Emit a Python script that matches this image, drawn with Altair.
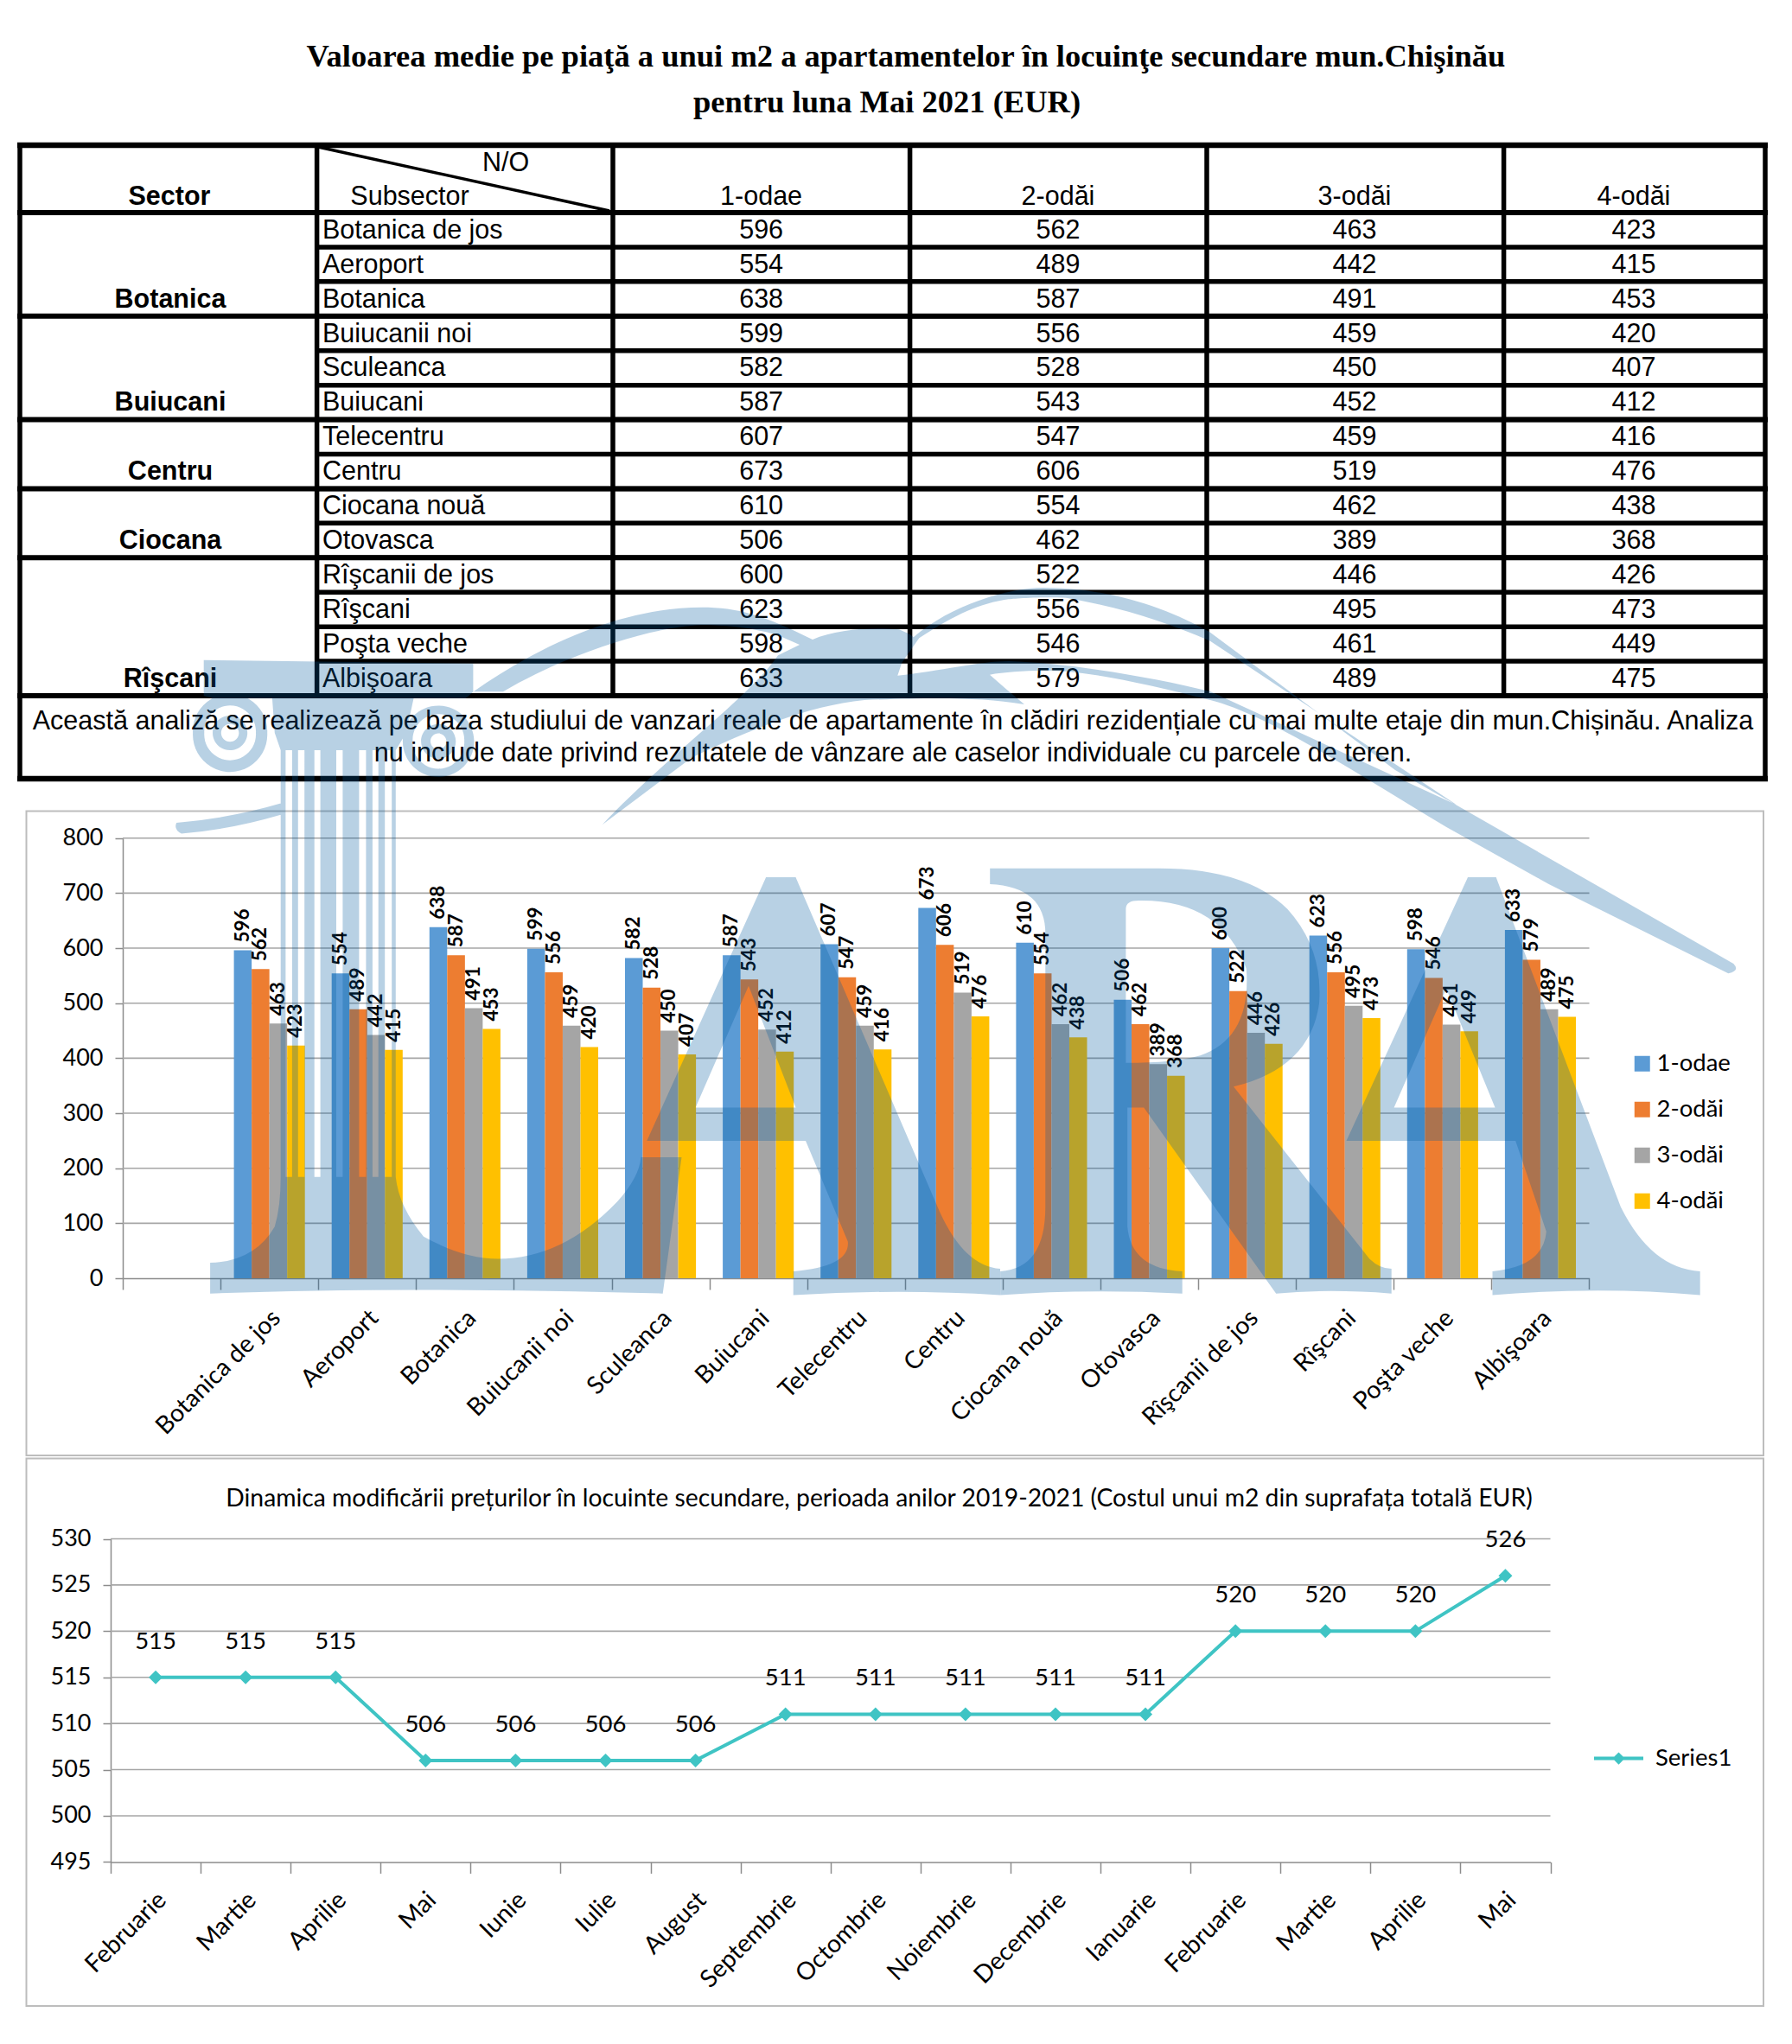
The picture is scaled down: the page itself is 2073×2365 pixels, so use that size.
import re, json
import altair as alt
import pandas as pd

title_lines = ["Valoarea medie pe piaţă a unui m2 a apartamentelor în locuinţe secundare mun.Chişinău",
               "pentru luna Mai 2021 (EUR)"]
note_lines = ["Această analiză se realizează pe baza studiului de vanzari reale de apartamente în clădiri rezidențiale cu mai multe etaje din mun.Chișinău. Analiza",
              "nu include date privind rezultatele de vânzare ale caselor individuale cu parcele de teren."]
series = ["1-odae", "2-odăi", "3-odăi", "4-odăi"]
subsectors = ["Botanica de jos", "Aeroport", "Botanica", "Buiucanii noi", "Sculeanca", "Buiucani", "Telecentru",
              "Centru", "Ciocana nouă", "Otovasca", "Rîşcanii de jos", "Rîşcani", "Poşta veche", "Albişoara"]
v1 = [596, 554, 638, 599, 582, 587, 607, 673, 610, 506, 600, 623, 598, 633]
v2 = [562, 489, 587, 556, 528, 543, 547, 606, 554, 462, 522, 556, 546, 579]
v3 = [463, 442, 491, 459, 450, 452, 459, 519, 462, 389, 446, 495, 461, 489]
v4 = [423, 415, 453, 420, 407, 412, 416, 476, 438, 368, 426, 473, 449, 475]
sectors = ["Botanica", "Buiucani", "Centru", "Ciocana", "Rîşcani"]
sector_rows = [2, 5, 7, 9, 13]
months = ["Februarie", "Martie", "Aprilie", "Mai", "Iunie", "Iulie", "August", "Septembrie", "Octombrie",
          "Noiembrie", "Decembrie", "Ianuarie", "Februarie", "Martie", "Aprilie", "Mai"]
trend = [515, 515, 515, 506, 506, 506, 506, 511, 511, 511, 511, 511, 520, 520, 520, 526]
line_title = "Dinamica modificării prețurilor în locuinte secundare, perioada anilor 2019-2021 (Costul unui m2 din suprafața totală EUR)"

colors = ["#5B9BD5", "#ED7D31", "#A5A5A5", "#FFC000"]
teal = "#3FC4C4"
SANS = "Liberation Sans"
SERIF = "Liberation Serif"
CAL = "Lato"
W = 2035
H1, H2, H3 = 922, 755, 640
O2, O3 = 8 + H1, 8 + H1 + H2
TF = 30.5
SHIFT = 18


def X(x):
    return x - SHIFT


def ty(y):
    return y - 8


row_y = alt.Scale(domain=[0, 14], range=[ty(246), ty(805)])
col_x = [23, 366.6, 709, 1052.6, 1396, 1739.6, 2042]
centers = [880.6, 1224, 1567, 1890]
tbl = [{"row": i, "name": n, "a": a, "b": b, "c": c, "d": d}
       for i, (n, a, b, c, d) in enumerate(zip(subsectors, v1, v2, v3, v4))]


def tx(data, x, y, text, size=TF, weight="normal", font=SANS, align="center"):
    return alt.Chart(alt.Data(values=data)).mark_text(
        font=font, fontSize=size, fontWeight=weight, align=align, baseline="middle", color="#000000"
    ).encode(x=alt.value(X(x)), y=y, text=text)


def ptext(t, x, y, **k):
    return tx([{"t": t}], x, alt.value(ty(y)), alt.Text("t:N"), **k)


layers = []
row_rules = [{"r": r} for r in range(1, 14)]
sector_breaks = [r + 1 for r in sector_rows[:-1]]
layers.append(alt.Chart(alt.Data(values=row_rules)).mark_rule(color="#000", strokeWidth=5.5).encode(
    x=alt.value(X(366.6)), x2=alt.value(X(2042)), y=alt.Y("r:Q", scale=row_y, axis=None)))
layers.append(alt.Chart(alt.Data(values=[{"r": r} for r in [0, 14] + sector_breaks])).mark_rule(color="#000", strokeWidth=6).encode(
    x=alt.value(X(20)), x2=alt.value(X(2045)), y=alt.Y("r:Q", scale=row_y, axis=None)))
for yy in [168, 901]:
    layers.append(alt.Chart(alt.Data(values=[{"a": 1}])).mark_rule(color="#000", strokeWidth=6.5).encode(
        x=alt.value(X(20)), x2=alt.value(X(2045)), y=alt.value(ty(yy))))
for i, cx in enumerate(col_x):
    y2 = 901 if i in (0, 6) else 805
    layers.append(alt.Chart(alt.Data(values=[{"a": 1}])).mark_rule(color="#000", strokeWidth=5.5).encode(
        x=alt.value(X(cx)), y=alt.value(ty(168)), y2=alt.value(ty(y2))))
layers.append(alt.Chart(alt.Data(values=[{"a": 1}])).mark_rule(color="#000", strokeWidth=3.5).encode(
    x=alt.value(X(368)), x2=alt.value(X(705)), y=alt.value(ty(170)), y2=alt.value(ty(244))))
layers.append(ptext(title_lines[0], 1048, 65.5, size=36.5, weight="bold", font=SERIF))
layers.append(ptext(title_lines[1], 1026, 119, size=36.5, weight="bold", font=SERIF))
layers.append(ptext("Sector", 196, 227.5, weight="bold"))
layers.append(ptext("Subsector", 474, 227.5))
layers.append(ptext("N/O", 585, 189))
for s, cx in zip(series, centers):
    layers.append(ptext(s, cx, 227.5))
yrow = alt.Y("pos:Q", scale=row_y, axis=None)
layers.append(alt.Chart(alt.Data(values=[{"pos": r + .52, "s": s} for s, r in zip(sectors, sector_rows)])).mark_text(
    font=SANS, fontSize=TF, fontWeight="bold", baseline="middle", color="#000").encode(
    x=alt.value(X(197)), y=yrow, text="s:N"))
tbl2 = [{**r, "pos": r["row"] + .52} for r in tbl]
layers.append(alt.Chart(alt.Data(values=tbl2)).mark_text(
    font=SANS, fontSize=TF, align="left", baseline="middle", color="#000").encode(
    x=alt.value(X(373)), y=yrow, text="name:N"))
for f, cx in zip("abcd", centers):
    layers.append(alt.Chart(alt.Data(values=tbl2)).mark_text(
        font=SANS, fontSize=TF, baseline="middle", color="#000").encode(
        x=alt.value(X(cx)), y=yrow, text=f"{f}:Q"))
layers.append(ptext(note_lines[0], 1033, 835))
layers.append(ptext(note_lines[1], 1033, 872))
table = alt.layer(*layers).properties(width=W, height=H1)

# ---------------------------------------------------------------- bars
bars_df = pd.DataFrame([{"name": n, "series": s, "value": v}
                        for s, vals in zip(series, [v1, v2, v3, v4]) for n, v in zip(subsectors, vals)])
by = lambda y: y - O2
y_scale = alt.Scale(domain=[0, 800], range=[by(1479), by(969.7)], nice=False)
x_scale = alt.Scale(domain=[" "] + subsectors, range=[X(142), X(1838.5)], paddingInner=0.274, paddingOuter=0.137)
xenc = alt.X("name:N", scale=x_scale, sort=None, title=None,
             axis=alt.Axis(labelAngle=-45, labelAlign="right", labelBaseline="middle", labelFont=CAL, labelFontSize=28.5,
                           labelPadding=28, labelOffset=64, labelColor="#000", labelLimit=500, tickBand="center", tickOffset=-56.5,
                           tickSize=13, tickColor="#8c8c8c", domainColor="#8c8c8c", tickWidth=1.5, domainWidth=1.5,
                           offset=-(H2 - by(1479)), labelOverlap=False, grid=False))
xo = alt.XOffset("series:N", sort=series, scale=alt.Scale(domain=series))
frame2 = alt.Chart(alt.Data(values=[{"a": 1}])).mark_rect(fillOpacity=0, stroke="#bdbdbd", strokeWidth=2).encode(
    x=alt.value(X(30.5)), x2=alt.value(X(2040)), y=alt.value(by(938.5)), y2=alt.value(by(1684)))
y_axis = alt.Axis(values=list(range(0, 801, 100)), labelFont=CAL, labelFontSize=27, labelColor="#000", labelPadding=14,
                  tickSize=9, tickColor="#8c8c8c", domainColor="#8c8c8c", tickWidth=1.5, domainWidth=1.5,
                  offset=-X(142), grid=False)
ygrid = alt.Chart(alt.Data(values=[{"v": v} for v in range(100, 801, 100)])).mark_rule(color="#a6a6a6", strokeWidth=1.6).encode(
    x=alt.value(X(142)), x2=alt.value(X(1838.5)), y=alt.Y("v:Q", scale=y_scale, axis=y_axis, title=None))
last_tick = alt.Chart(alt.Data(values=[{"a": 1}])).mark_rule(color="#8c8c8c", strokeWidth=1.5).encode(
    x=alt.value(X(1838.5)), y=alt.value(by(1479)), y2=alt.value(by(1492)))
bars = alt.Chart(bars_df).mark_bar().encode(
    x=xenc, xOffset=xo,
    y=alt.Y("value:Q", scale=y_scale, title=None, axis=y_axis),
    color=alt.Color("series:N", sort=series, scale=alt.Scale(domain=series, range=colors), title=None,
                    legend=alt.Legend(orient="none", legendX=X(1886), legendY=by(1217), symbolType="square", symbolSize=324,
                                      symbolStrokeWidth=0, labelFont=CAL, labelFontSize=27.5, labelColor="#000", labelOffset=3,
                                      rowPadding=24)))
labels = alt.Chart(bars_df).mark_text(font="Lato", fontWeight="bold", fontSize=22.5, angle=270, align="left",
                                      baseline="middle", dx=9, color="#000").encode(
    x=alt.X("name:N", scale=x_scale, sort=None, title=None), xOffset=xo, y=alt.Y("value:Q", scale=y_scale), text="value:Q")


def tr(path, fn):
    def rep(m):
        a, b = fn(float(m[1]), float(m[2]))
        return f"{a:.1f},{b:.1f}"
    return re.sub(r"(-?[\d.]+),(-?[\d.]+)", rep, path)


z5 = lambda x, y: (X(180 + x / 1.742), by(650 + y / 1.742))
z6 = lambda x, y: (X(1080 + x / 1.686), by(650 + y / 1.742))
z7 = lambda x, y: (X(900 + x / 3), by(660 + y / 3))


def ring(cx, cy, r, sweep):
    (a, b) = z5(cx, cy)
    r = r / 1.742
    return f"M{a - r:.1f},{b:.1f} A{r:.1f},{r:.1f} 0 1 {sweep} {a + r:.1f},{b:.1f} A{r:.1f},{r:.1f} 0 1 {sweep} {a - r:.1f},{b:.1f} Z"


p5 = [
    "M97,198 L640,205 L640,262 L625,275 L115,275 L97,270 Z",
    "M235,275 L520,275 L505,345 L484,380 L252,380 L240,345 Z",
    "M42,526 Q150,517 252,487 L252,510 Q150,540 52,548 Q36,540 42,526 Z",
    "M110,1413 Q200,1410 240,1340 Q252,1300 252,1240 L484,1240 Q490,1300 540,1360 Q620,1405 690,1405 "
    "Q820,1405 930,1290 Q975,1240 978,1200 L1060,1200 L1022,1475 Q500,1460 110,1475 Z",
    "M1230,636 L1290,636 L1580,1310 Q1630,1420 1702,1425 L1702,1478 Q1500,1465 1285,1478 L1285,1430 "
    "Q1400,1420 1395,1370 L1310,1167 L990,1167 Z M1195,855 L1088,1100 L1290,1100 Z",
]
for a, b in [(252, 262), (275, 287), (300, 320), (332, 364), (377, 410), (424, 437), (449, 462), (476, 484)]:
    p5.append(f"M{a},380 L{b},380 L{b},1240 L{a},1240 Z")
p6 = [
    "M110,618 L440,618 Q610,618 690,700 Q760,780 752,890 Q735,1020 585,1058 L850,1405 Q870,1425 893,1425 L893,1475 "
    "Q770,1465 668,1475 L410,1100 L378,1100 L378,1340 Q385,1425 485,1430 L485,1475 Q300,1465 130,1478 L130,1430 "
    "Q218,1425 218,1300 L218,750 Q218,655 110,650 Z "
    "M375,1010 Q470,1010 520,995 Q620,960 610,820 Q560,680 400,683 Q375,683 375,700 Z",
    "M1042,636 L1097,636 L1340,1300 Q1400,1425 1495,1430 L1495,1478 Q1300,1460 1090,1478 L1090,1430 "
    "Q1190,1420 1195,1350 L1135,1167 L805,1167 Z M1000,860 L898,1100 L1095,1100 Z",
]
p7 = [
    "M-1057,421 C-782,228 -506,128 -265,128 C-140,128 -50,155 120,240 C200,205 330,195 420,205 C445,215 460,222 470,232 "
    "C600,120 800,60 920,60 C1150,60 1350,130 1500,215 L2142,693 L3316,1365 Q3340,1390 3298,1399 L2675,1089 L2320,891 "
    "C2000,700 1700,500 1500,450 C1300,400 1150,365 1000,350 C900,345 800,350 735,362 L790,410 L855,465 "
    "C700,440 550,440 300,450 C100,470 -100,555 -300,650 L-610,883 C-403,659 -93,435 0,295 L75,258 L0,225 "
    "C-100,195 -200,190 -265,190 C-450,195 -750,300 -954,421 Z "
    "M490,235 L430,320 L415,365 C560,350 700,315 800,315 C1000,320 1300,370 1500,420 L2355,814 L1500,245 "
    "C1350,180 1200,130 1000,95 C900,90 800,100 800,100 C700,115 620,150 490,235 Z",
]
volutes = [ring(150, 345, 75, 1), ring(150, 345, 52, 0), ring(150, 345, 35, 1), ring(150, 345, 18, 0),
           ring(570, 362, 72, 1), ring(570, 362, 52, 0), ring(570, 362, 35, 1), ring(570, 362, 16, 0)]
logo = " ".join([tr(p, z5) for p in p5] + [tr(p, z6) for p in p6] + [tr(p, z7) for p in p7] + volutes)
watermark = alt.Chart(alt.Data(values=[{"a": 1}])).mark_point(
    shape=logo, size=4, filled=True, fill="#005a9e", fillOpacity=0.28, strokeWidth=0, opacity=1).encode(
    x=alt.value(0), y=alt.value(0))
barchart = alt.layer(frame2, ygrid, last_tick, bars, labels, watermark).properties(width=W, height=H2)

# ---------------------------------------------------------------- line
ly = lambda y: y - O3
line_df = pd.DataFrame({"i": list(range(16)), "v": trend, "s": ["Series1"] * 16})
ys = alt.Scale(domain=[495, 530], range=[ly(2154.4), ly(1780.5)], nice=False, zero=False)
xs = alt.Scale(type="band", domain=list(range(16)), range=[X(128), X(1793.5)], paddingInner=0, paddingOuter=0)
frame3 = alt.Chart(alt.Data(values=[{"a": 1}])).mark_rect(fillOpacity=0, stroke="#bdbdbd", strokeWidth=2).encode(
    x=alt.value(X(30.5)), x2=alt.value(X(2040)), y=alt.value(ly(1687.5)), y2=alt.value(ly(2321)))
ly_axis = alt.Axis(values=list(range(495, 531, 5)), labelFont=CAL, labelFontSize=27, labelColor="#000", labelPadding=14,
                   tickSize=9, tickColor="#8c8c8c", domainColor="#8c8c8c", tickWidth=1.5, domainWidth=1.5,
                   offset=-X(128), grid=False)
lgrid = alt.Chart(alt.Data(values=[{"v": v} for v in range(500, 531, 5)])).mark_rule(color="#a6a6a6", strokeWidth=1.6).encode(
    x=alt.value(X(128)), x2=alt.value(X(1793.5)), y=alt.Y("v:Q", scale=ys, axis=ly_axis, title=None))
ltitle = alt.Chart(alt.Data(values=[{"t": line_title}])).mark_text(font=CAL, fontSize=28.3, color="#000", baseline="middle").encode(
    x=alt.value(X(1017)), y=alt.value(ly(1735)), text="t:N")
lx = alt.X("i:O", scale=xs, title=None,
           axis=alt.Axis(labelExpr=json.dumps(months, ensure_ascii=False) + "[datum.value]", labelAngle=-45, labelAlign="right",
                         labelBaseline="middle", labelFont=CAL, labelFontSize=28.5, labelPadding=26, labelOffset=7, labelColor="#000",
                         labelLimit=500, tickBand="extent", tickSize=13, tickColor="#8c8c8c", domainColor="#8c8c8c", tickWidth=1.5,
                         domainWidth=1.5, offset=-(H3 - ly(2154.4)), labelOverlap=False, grid=False))
lline = alt.Chart(line_df).mark_line(strokeWidth=4).encode(
    x=lx,
    y=alt.Y("v:Q", scale=ys, title=None, axis=ly_axis),
    color=alt.Color("s:N", scale=alt.Scale(domain=["Series1"], range=[teal]), title=None,
                    legend=alt.Legend(orient="none", legendX=X(1844), legendY=ly(2006), symbolSize=3249,
                                      symbolType="M-1,-0.07H1V0.07H-1Z M0,-0.25L0.25,0L0,0.25L-0.25,0Z",
                                      symbolStrokeWidth=0, symbolFillColor=teal, labelFont=CAL, labelFontSize=27.5, labelColor="#000",
                                      labelOffset=14)))
lpts = alt.Chart(line_df).mark_point(shape="diamond", filled=True, size=256, color=teal, opacity=1).encode(
    x=alt.X("i:O", scale=xs, title=None), y=alt.Y("v:Q", scale=ys))
ltxt = alt.Chart(line_df).mark_text(font=CAL, fontSize=27.5, dy=-41, color="#000").encode(
    x=alt.X("i:O", scale=xs, title=None), y=alt.Y("v:Q", scale=ys), text="v:Q")
linechart = alt.layer(frame3, lgrid, lline, lpts, ltxt, ltitle).properties(width=W, height=H3)

chart = alt.vconcat(table, barchart, linechart, spacing=0, bounds="flush").resolve_scale(
    x="independent", y="independent", color="independent"
).properties(padding=0, background="white").configure_view(stroke=None)

chart.save("out.html", embed_options={"renderer": "svg", "actions": False})
